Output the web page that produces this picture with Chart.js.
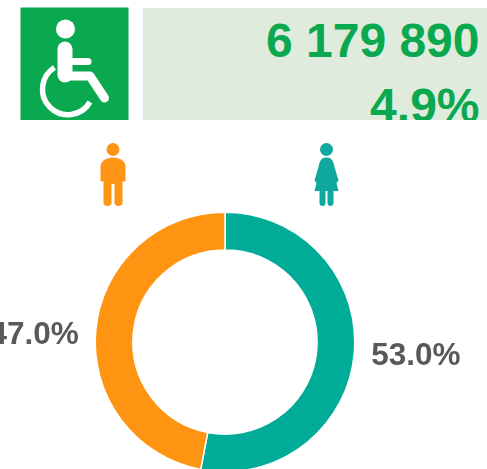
<!DOCTYPE html>
<html>
<head>
<meta charset="utf-8">
<script src="https://cdn.jsdelivr.net/npm/chart.js@4"></script>
<style>
html,body{margin:0;padding:0;background:#fff;width:487px;height:469px;overflow:hidden}
#stage{position:relative;width:487px;height:469px;overflow:hidden;font-family:"Liberation Sans",Arial,sans-serif}
canvas{position:absolute;left:0;top:0}
#panel{position:absolute;left:143px;top:8px;width:344px;height:112px;background:#dfebdc;overflow:hidden;color:#0aa84f;font-weight:bold;font-size:48px;line-height:48px}
#panel div{position:absolute;right:7.5px;white-space:nowrap}
svg{position:absolute;left:0;top:0}
</style>
</head>
<body>
<div id="stage">
<canvas id="c" width="487" height="500"></canvas>
<div id="panel"><div id="total" style="top:9px"></div><div id="share" style="top:73.5px"></div></div>
<svg width="487" height="230" viewBox="0 0 487 230">
  <rect x="20.5" y="7.5" width="108" height="112.5" fill="#0aa84f"/>
  <g fill="none" stroke="#fff" stroke-linecap="round" stroke-linejoin="round">
    <circle cx="65.5" cy="29" r="9.5" fill="#fff" stroke="none"/>
    <path d="M65 49V75" stroke-width="15"/>
    <path d="M68 61.5H88" stroke-width="7"/>
    <path d="M66 76H90L104.5 98" stroke-width="9"/>
    <path d="M54.5 67.5A25.5 25.5 0 1 0 90 102" stroke-width="5.5" stroke-linecap="butt"/>
  </g>
  <g fill="#ff9415">
    <circle cx="113" cy="149.5" r="6.5"/>
    <path d="M113 157.5C120 157.5 125.5 161 125.5 167V180.5C125.5 182 123.5 182 122.5 181V203C122.5 207 114.5 207 114.5 203V184H111.5V203C111.5 207 103.5 207 103.5 203V181C102.5 182 100.5 182 100.5 180.5V167C100.5 161 106 157.5 113 157.5Z"/>
  </g>
  <g fill="#0fa89e">
    <circle cx="326.5" cy="149.5" r="6.5"/>
    <path d="M326.5 157.5C331 157.5 333 160 334 165L338.5 180.5L336.5 183L338.5 191H333.5V203C333.5 207 327.5 207 327.5 203V191H325.5V203C325.5 207 319.5 207 319.5 203V191H314.5L316.5 183L314.5 180.5L319 165C320 160 322 157.5 326.5 157.5Z"/>
  </g>
</svg>
</div>
<script>
const categories = ["Women", "Men"];
const shareValues = [53.0, 47.0];
const segmentColors = ["#00ab97", "#ff9412"];
const totalLabel = "6 179 890";
const shareLabel = "4.9%";

document.getElementById("total").textContent = totalLabel;
document.getElementById("share").textContent = shareLabel;

const nudgeY = [-4, 11];
const outsideLabels = {
  id: "outsideLabels",
  afterDatasetsDraw(chart) {
    const ctx = chart.ctx;
    const arcs = chart.getDatasetMeta(0).data;
    ctx.save();
    ctx.font = 'bold 31.5px "Liberation Sans", Arial, sans-serif';
    ctx.fillStyle = "#58595b";
    ctx.textAlign = "center";
    ctx.textBaseline = "middle";
    arcs.forEach((arc, i) => {
      const mid = (arc.startAngle + arc.endAngle) / 2;
      const r = arc.outerRadius + 62;
      ctx.fillText(shareValues[i].toFixed(1) + "%",
        arc.x + Math.cos(mid) * r,
        arc.y + Math.sin(mid) * r + nudgeY[i]);
    });
    ctx.restore();
  }
};

new Chart(document.getElementById("c"), {
  type: "doughnut",
  data: {
    labels: categories,
    datasets: [{
      data: shareValues,
      backgroundColor: segmentColors,
      borderColor: "#ffffff",
      borderWidth: 1.5
    }]
  },
  options: {
    responsive: false,
    animation: false,
    cutout: "71%",
    layout: { padding: { left: 94.5, right: 131.5, top: 211.5, bottom: 27.5 } },
    plugins: { legend: { display: false }, tooltip: { enabled: false } }
  },
  plugins: [outsideLabels]
});
</script>
</body>
</html>
